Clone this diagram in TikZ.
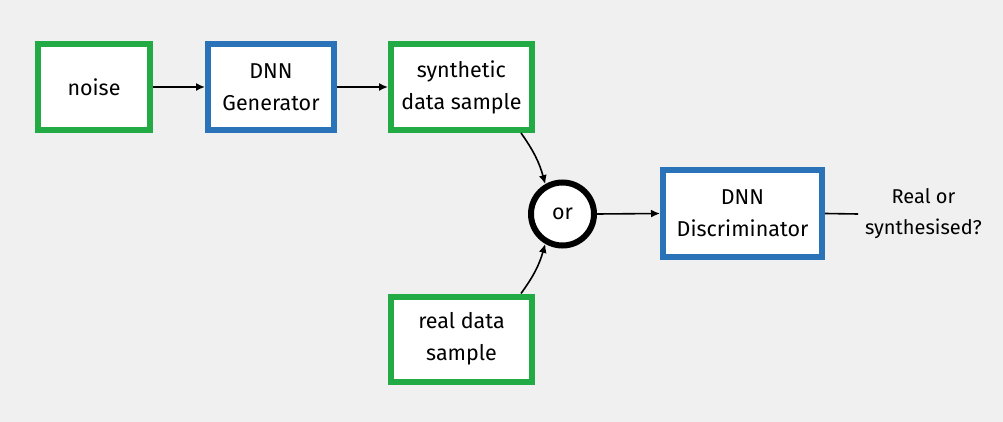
\documentclass[tikz,border=0pt]{standalone}
\usepackage{fontspec}
\setmainfont{Fira Sans}
\usetikzlibrary{arrows.meta}
\definecolor{bg}{HTML}{F0F0F0}
\definecolor{gbox}{HTML}{22AA44}
\definecolor{bbox}{HTML}{2B73B8}
\tikzset{
  box/.style={draw, fill=white, line width=6pt, align=center, inner sep=0pt,
    font=\fontsize{21.5}{32}\selectfont},
  gb/.style={box, draw=gbox},
  bb/.style={box, draw=bbox},
  arr/.style={line width=1.6pt, -{Latex[length=9pt,width=8pt]}},
}
\begin{document}
\begin{tikzpicture}[x=1pt,y=-1pt]
\fill[bg] (0,0) rectangle (1003,422);
\useasboundingbox (0,0) rectangle (1003,422);
\node[gb, minimum width=112pt, minimum height=86pt] (noise) at (94,87) {noise};
\node[bb, minimum width=126pt, minimum height=86pt] (gen) at (271,87) {DNN\\Generator};
\node[gb, minimum width=141pt, minimum height=86pt] (syn) at (461.5,87) {synthetic\\data sample};
\node[draw, fill=white, circle, line width=6pt, minimum size=63pt, inner sep=0pt,
  font=\fontsize{21.5}{32}\selectfont] (or) at (562.5,214) {or};
\node[bb, minimum width=159pt, minimum height=87pt] (disc) at (742.5,213.5) {DNN\\Discriminator};
\node[gb, minimum width=141pt, minimum height=85pt] (real) at (461.5,339) {real data\\sample};
\node[align=center, inner sep=0pt, font=\fontsize{20}{31}\selectfont] (out) at (923.5,214) {Real or\\synthesised?};
\coordinate (oend) at (858,214);
\draw[arr] (noise.east) -- (gen.west);
\draw[arr] (gen.east) -- (syn.west);
\draw[arr] ([xshift=-14pt]syn.south east) to[bend left=10] (or.120);
\draw[arr] ([xshift=-14pt]real.north east) to[bend right=10] (or.240);
\draw[arr] (or.east) -- (disc.west);
\draw[line width=1.6pt] (disc.east) -- (oend);
\end{tikzpicture}
\end{document}
